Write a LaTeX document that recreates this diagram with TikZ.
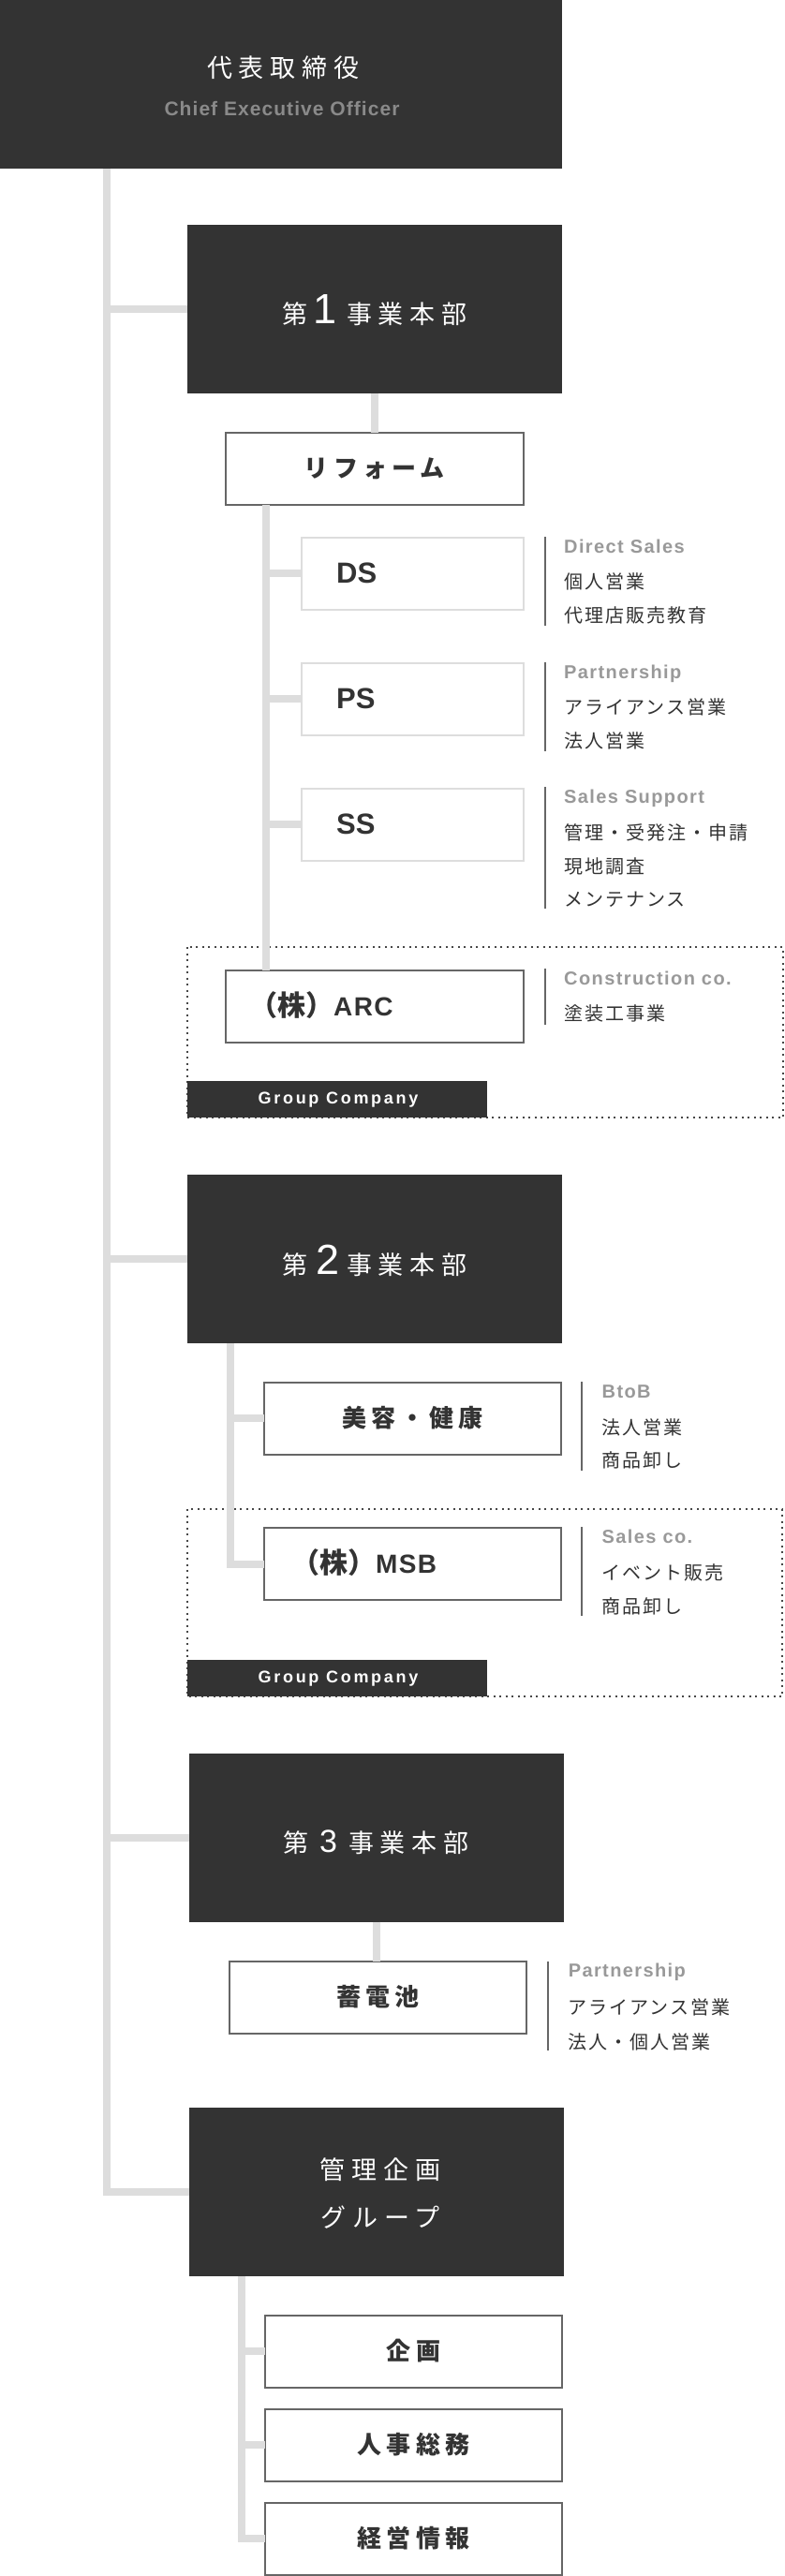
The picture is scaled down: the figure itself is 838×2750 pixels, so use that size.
\documentclass[tikz,border=0pt]{standalone}
\usepackage{fontspec}
\newfontfamily\jpf{Noto Sans CJK JP}
\newfontfamily\latf{Liberation Sans}
\definecolor{dark}{HTML}{333333}
\definecolor{linec}{HTML}{DDDDDD}
\definecolor{bord}{HTML}{666666}
\definecolor{lbl}{HTML}{999999}
\definecolor{sub}{HTML}{8A8A8A}
\tikzset{
  conn/.style={draw=linec, line width=8pt},
  sepline/.style={draw=bord, line width=2pt},
  darkbox/.style={fill=dark, draw=none, minimum width=400pt, minimum height=180pt, inner sep=0pt, outer sep=0pt},
  unitbox/.style={draw=bord, line width=2pt, fill=white, minimum width=318pt, minimum height=77pt, inner sep=0pt, outer sep=0pt, text=dark,
    font={\jpf\bfseries\fontsize{26}{30}\selectfont\addfontfeature{LetterSpace=20}}},
  lightbox/.style={draw=linec, line width=2pt, fill=white, minimum width=237pt, minimum height=77pt, inner sep=0pt, outer sep=0pt},
  grouplbl/.style={fill=dark, draw=none, minimum width=320pt, minimum height=39pt, inner sep=0pt, outer sep=0pt},
  grouptxt/.style={anchor=base, inner sep=0pt, text=white, font={\latf\bfseries\fontsize{18}{22}\selectfont\addfontfeature{LetterSpace=15}}},
  dotbox/.style={draw=dark!90, line width=2pt, dash pattern=on 2pt off 4.5pt},
  headjp/.style={inner sep=0pt, text=white, font={\jpf\fontsize{27}{32}\selectfont\addfontfeature{LetterSpace=25}}},
  headdai/.style={inner sep=0pt, anchor=base, text=white, font={\jpf\fontsize{27}{32}\selectfont}},
  headnum/.style={inner sep=0pt, anchor=base, text=white, font={\latf\fontsize{45}{50}\selectfont}},
  codetxt/.style={anchor=west, inner sep=0pt, text=dark, font={\latf\bfseries\fontsize{31}{36}\selectfont}},
  desclbl/.style={anchor=base west, inner sep=0pt, text=lbl, font={\latf\bfseries\fontsize{20}{24}\selectfont\addfontfeature{LetterSpace=7}}},
  descjp/.style={anchor=west, inner sep=0pt, text=dark, font={\jpf\fontsize{20}{24}\selectfont\addfontfeature{LetterSpace=10}}},
}
\newcommand\kabu{{\jpf\bfseries\fontsize{30}{34}\selectfont（株）}}
\newcommand\latb[1]{{\latf\bfseries\fontsize{28}{32}\selectfont\addfontfeature{LetterSpace=5}#1}}
\begin{document}
\begin{tikzpicture}[x=1pt, y=-1pt]
\useasboundingbox (0,0) rectangle (838,2750);
\fill[white] (0,0) rectangle (838,2750);

% group company frames
\draw[dotbox] (200,1011) rectangle (836,1193);
\draw[dotbox] (200,1611) rectangle (835,1811);

% dark boxes
\node[darkbox, minimum width=600pt] (ceo) at (300,90) {};
\node[darkbox] (div1) at (400,330) {};
\node[darkbox] (div2) at (400,1344) {};
\node[darkbox] (div3) at (402,1961.5) {};
\node[darkbox] (mgmt) at (402,2340) {};

% unit boxes
\node[unitbox] (reform) at (400,500) {リフォーム};
\node[lightbox] (ds) at (440.5,612) {};
\node[lightbox] (ps) at (440.5,746) {};
\node[lightbox] (ss) at (440.5,880) {};
\node[unitbox] (arc) at (400,1074) {};
\node[unitbox, minimum width=317pt] (beauty) at (440.5,1514) {美容・健康};
\node[unitbox, minimum width=317pt] (msb) at (440.5,1669.5) {};
\node[unitbox, minimum width=317pt] (battery) at (403.5,2132) {蓄電池};
\node[unitbox, minimum width=317pt] (kikaku) at (441.5,2510) {企画};
\node[unitbox, minimum width=317pt] (jinji) at (441.5,2610) {人事総務};
\node[unitbox, minimum width=317pt] (keiei) at (441.5,2710) {経営情報};

% group labels
\node[grouplbl] (g1) at (360,1173.5) {};
\node[grouptxt] (g1t) at (361,1178) {Group Company};
\node[grouplbl] (g2) at (360,1791.5) {};
\node[grouptxt] (g2t) at (361,1796) {Group Company};

% connectors
\coordinate (trunk) at (114,0);
\coordinate (sub1) at (284,0);
\coordinate (sub2) at (246,0);
\coordinate (sub4) at (258,0);
\draw[conn] (trunk |- ceo.south) -- (trunk |- mgmt.west) -- (mgmt.west);
\draw[conn] (trunk |- div1.west) -- (div1.west);
\draw[conn] (trunk |- div2.west) -- (div2.west);
\draw[conn] (trunk |- div3.west) -- (div3.west);
\draw[conn] (div1.south) -- (reform.north);
\draw[conn] (sub1 |- reform.south) -- (sub1 |- arc.north);
\draw[conn] (sub1 |- ds.west) -- (ds.west);
\draw[conn] (sub1 |- ps.west) -- (ps.west);
\draw[conn] (sub1 |- ss.west) -- (ss.west);
\draw[conn] (sub2 |- div2.south) -- (sub2 |- msb.west) -- (msb.west);
\draw[conn] (sub2 |- beauty.west) -- (beauty.west);
\draw[conn] (div3.south) -- (div3.south |- battery.north);
\draw[conn] (sub4 |- mgmt.south) -- (sub4 |- keiei.west) -- (keiei.west);
\draw[conn] (sub4 |- kikaku.west) -- (kikaku.west);
\draw[conn] (sub4 |- jinji.west) -- (jinji.west);

% headings
\node[headjp] (ceoT) at (302,72) {代表取締役};
\node[inner sep=0pt, anchor=base, text=sub, font={\latf\bfseries\fontsize{21}{25}\selectfont\addfontfeature{LetterSpace=5}}] (ceoS) at (301,123) {Chief Executive Officer};

\node[headdai] (d1a) at (314.5,345.5) {第};
\node[headnum] (d1b) at (347,345.5) {1};
\node[headjp, anchor=base west] (d1c) at (370,345.5) {事業本部};

\node[headdai] (d2a) at (314.5,1360.5) {第};
\node[headnum] (d2b) at (350,1360.5) {2};
\node[headjp, anchor=base west] (d2c) at (370,1360.5) {事業本部};

\node[headdai] (d3a) at (316,1977) {第};
\node[headnum, font={\latf\fontsize{34}{38}\selectfont}] (d3b) at (350.5,1977) {3};
\node[headjp, anchor=base west] (d3c) at (372,1977) {事業本部};

\node[headjp] (m1) at (406,2316) {管理企画};
\node[headjp] (m2) at (406,2367) {グループ};

% codes
\node[codetxt] (dsT) at (359,612) {DS};
\node[codetxt] (psT) at (359,746) {PS};
\node[codetxt] (ssT) at (359,880) {SS};
\node[anchor=west, inner sep=0pt, text=dark] (arcT) at (266,1073) {\kabu\latb{ARC}};
\node[anchor=west, inner sep=0pt, text=dark] (msbT) at (311,1668) {\kabu\latb{MSB}};

% descriptions
\draw[sepline] (581.7,573) -- (581.7,668);
\node[desclbl] (dsL) at (602,590) {Direct Sales};
\node[descjp] (dsA) at (602,621) {個人営業};
\node[descjp] (dsB) at (602,657) {代理店販売教育};

\draw[sepline] (581.7,707) -- (581.7,802);
\node[desclbl] (psL) at (602,724) {Partnership};
\node[descjp] (psA) at (602,755) {アライアンス営業};
\node[descjp] (psB) at (602,791) {法人営業};

\draw[sepline] (581.7,840) -- (581.7,970);
\node[desclbl] (ssL) at (602,857) {Sales Support};
\node[descjp] (ssA) at (602,889) {管理・受発注・申請};
\node[descjp] (ssB) at (602,925) {現地調査};
\node[descjp] (ssC) at (602,960) {メンテナンス};

\draw[sepline] (581.7,1034) -- (581.7,1094);
\node[desclbl] (arcL) at (602,1051) {Construction co.};
\node[descjp] (arcA) at (602,1082) {塗装工事業};

\draw[sepline] (621,1475) -- (621,1570);
\node[desclbl] (beL) at (642.5,1492) {BtoB};
\node[descjp] (beA) at (642.5,1523.5) {法人営業};
\node[descjp] (beB) at (642.5,1559) {商品卸し};

\draw[sepline] (621,1630) -- (621,1725);
\node[desclbl] (msL) at (642.5,1647) {Sales co.};
\node[descjp] (msA) at (642.5,1679) {イベント販売};
\node[descjp] (msB) at (642.5,1715) {商品卸し};

\draw[sepline] (585,2094) -- (585,2189);
\node[desclbl] (baL) at (606.6,2110) {Partnership};
\node[descjp] (baA) at (606.6,2143) {アライアンス営業};
\node[descjp] (baB) at (606.6,2179.5) {法人・個人営業};
\end{tikzpicture}
\end{document}
